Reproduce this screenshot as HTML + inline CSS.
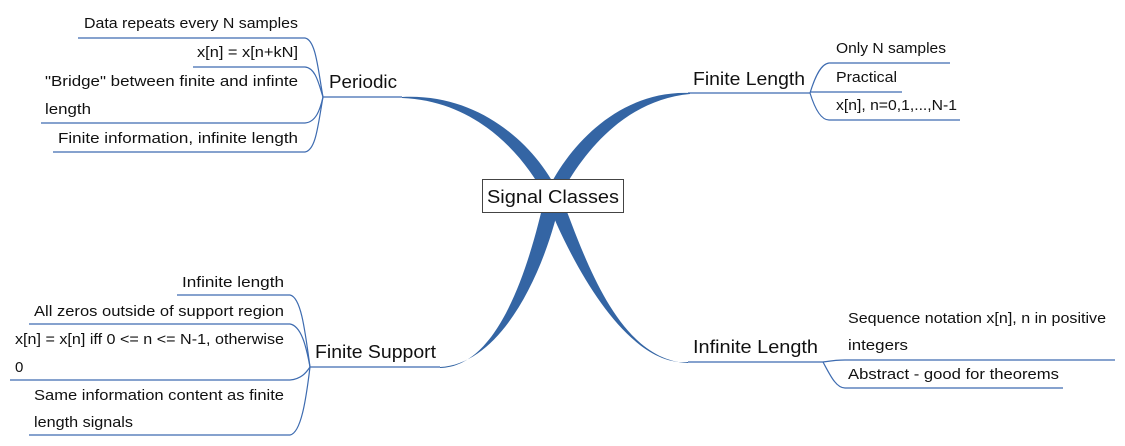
<!DOCTYPE html>
<html><head><meta charset="utf-8"><style>
html,body{margin:0;padding:0;background:#fff;}
svg{display:block;}
text{font-family:"Liberation Sans",sans-serif;fill:#111;}
.s{font-size:15px;}
.m{font-size:18px;}
.l{fill:none;stroke:#3d6bb0;stroke-width:1.2;}
</style></head><body>
<svg width="1125" height="446" viewBox="0 0 1125 446" xmlns="http://www.w3.org/2000/svg">
<g fill="#3465a4">
<path d="M402,97 C482,93 538,148 560,196 L545,196 C524,156 478,101 402,98 Z"/>
<path d="M690,93 C618,90 566,148 545,196 L560,196 C582,154 624,100 690,94 Z"/>
<path d="M440,367 C505,364 548,262 561,196 L545,196 C530,262 500,367 440,368 Z"/>
<path d="M688,362 C628,367 572,266 545,196 L561,196 C585,258 618,360 688,363 Z"/>
</g>
<!-- Periodic -->
<path class="l" d="M323,97 H402"/>
<path class="l" d="M78,38 H305 C316,40 318,70 323,97"/>
<path class="l" d="M193,67 H305 C316,68 319,85 323,97"/>
<path class="l" d="M41,123 H305 C316,122 320,110 323,97"/>
<path class="l" d="M53,152 H305 C316,150 318,125 323,97"/>
<!-- Finite Support -->
<path class="l" d="M310,367 H440"/>
<path class="l" d="M177,295 H290 C301,297 305,330 310,367"/>
<path class="l" d="M29,324 H290 C301,326 306,345 310,367"/>
<path class="l" d="M10,380 H290 C301,379 306,373 310,367"/>
<path class="l" d="M29,435 H290 C301,433 306,400 310,367"/>
<!-- Finite Length -->
<path class="l" d="M688,93 H810"/>
<path class="l" d="M810,93 C814,80 820,64 829,63 H950"/>
<path class="l" d="M810,92 H902"/>
<path class="l" d="M810,93 C814,106 820,120 829,120 H960"/>
<!-- Infinite Length -->
<path class="l" d="M688,362 H823"/>
<path class="l" d="M823,362 C830,361 836,360 845,360 H1115"/>
<path class="l" d="M823,362 C830,375 836,388 845,388 H1063"/>
<!-- center box -->
<rect x="482.5" y="179.5" width="141" height="33" fill="#fff" stroke="#444" stroke-width="1"/>
<text class="m" x="487" y="203" textLength="132" lengthAdjust="spacingAndGlyphs">Signal Classes</text>
<!-- labels -->
<text class="m" x="329" y="88" textLength="68" lengthAdjust="spacingAndGlyphs">Periodic</text>
<text class="m" x="315" y="358" textLength="121" lengthAdjust="spacingAndGlyphs">Finite Support</text>
<text class="m" x="693" y="85" textLength="112" lengthAdjust="spacingAndGlyphs">Finite Length</text>
<text class="m" x="693" y="353" textLength="125" lengthAdjust="spacingAndGlyphs">Infinite Length</text>
<!-- periodic children -->
<text class="s" x="84" y="28" textLength="214" lengthAdjust="spacingAndGlyphs">Data repeats every N samples</text>
<text class="s" x="197" y="57" textLength="101" lengthAdjust="spacingAndGlyphs">x[n] = x[n+kN]</text>
<text class="s" x="45" y="86" textLength="253" lengthAdjust="spacingAndGlyphs">"Bridge" between finite and infinte</text>
<text class="s" x="45" y="114" textLength="46" lengthAdjust="spacingAndGlyphs">length</text>
<text class="s" x="58" y="143" textLength="240" lengthAdjust="spacingAndGlyphs">Finite information, infinite length</text>
<!-- finite support children -->
<text class="s" x="182" y="287" textLength="102" lengthAdjust="spacingAndGlyphs">Infinite length</text>
<text class="s" x="34" y="316" textLength="250" lengthAdjust="spacingAndGlyphs">All zeros outside of support region</text>
<text class="s" x="15" y="344" textLength="269" lengthAdjust="spacingAndGlyphs">x[n] = x[n] iff 0 &lt;= n &lt;= N-1, otherwise</text>
<text class="s" x="15" y="372">0</text>
<text class="s" x="34" y="400" textLength="250" lengthAdjust="spacingAndGlyphs">Same information content as finite</text>
<text class="s" x="34" y="427" textLength="99" lengthAdjust="spacingAndGlyphs">length signals</text>
<!-- finite length children -->
<text class="s" x="836" y="53" textLength="110" lengthAdjust="spacingAndGlyphs">Only N samples</text>
<text class="s" x="836" y="82" textLength="61" lengthAdjust="spacingAndGlyphs">Practical</text>
<text class="s" x="836" y="110" textLength="121" lengthAdjust="spacingAndGlyphs">x[n], n=0,1,...,N-1</text>
<!-- infinite length children -->
<text class="s" x="848" y="323" textLength="258" lengthAdjust="spacingAndGlyphs">Sequence notation x[n], n in positive</text>
<text class="s" x="848" y="350" textLength="60" lengthAdjust="spacingAndGlyphs">integers</text>
<text class="s" x="848" y="379" textLength="211" lengthAdjust="spacingAndGlyphs">Abstract - good for theorems</text>
</svg>
</body></html>
